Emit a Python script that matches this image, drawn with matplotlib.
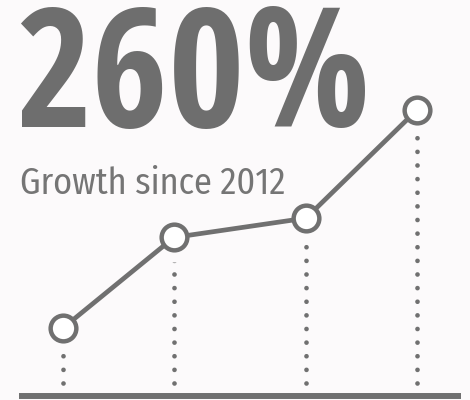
import matplotlib
matplotlib.use("Agg")
import matplotlib.pyplot as plt

# --- DATA ---
periods = [0.0, 1.0, 2.19, 3.19]        # horizontal position of each point
growth = [0, 108, 131, 260]             # growth in % relative to 2012
headline = "260%"
subtitle = "Growth since 2012"

# --- STYLE ---
GREY = "#707070"
BG = "#fcfafb"
HEAD_FONT = ["Open Sans Condensed", "Open Sans", "DejaVu Sans"]
SUB_FONT = ["Fira Sans Condensed", "Open Sans", "DejaVu Sans"]

plt.rcParams["lines.scale_dashes"] = False

fig = plt.figure(figsize=(4.7, 4.0), dpi=100, facecolor=BG)
ax = fig.add_axes([19 / 470, 4 / 400, 442 / 470, 396 / 400])
ax.set_facecolor(BG)

ax.set_xlim(-0.396, 3.586)
ax.set_ylim(-81, 391)
y_floor = ax.get_ylim()[0] + 16   # where the dotted drop lines begin

# dotted drop lines (drawn from the bottom up so the dots sit evenly on the floor)
for x, y in zip(periods, growth):
    ax.plot([x, x], [y_floor, y], color=GREY, lw=3.4,
            dashes=(0.01, 9.8), dash_capstyle="round", zorder=1)

# background halo hides the dots right under each marker
ax.plot(periods, growth, ls="none", marker="o", ms=36, mfc=BG, mec="none", zorder=2)
ax.plot(periods, growth, color=GREY, lw=3.4, solid_capstyle="round", zorder=3)
ax.plot(periods, growth, ls="none", marker="o", ms=18.5, mfc="white",
        mec=GREY, mew=3.2, zorder=4)

for side in ["top", "left", "right"]:
    ax.spines[side].set_visible(False)
ax.spines["bottom"].set_color(GREY)
ax.spines["bottom"].set_linewidth(4.3)
ax.spines["bottom"].set_capstyle("butt")
ax.set_xticks([])
ax.set_yticks([])

fig.text(15 / 470, 1 - 127 / 400, headline, fontsize=119, fontweight="bold",
         family=HEAD_FONT, color="#6e6e6e", va="baseline", ha="left")
fig.text(20 / 470, 1 - 194 / 400, subtitle, fontsize=26, fontweight="normal",
         family=SUB_FONT, color="#757575", va="baseline", ha="left")

fig.savefig("out.png", dpi=100, facecolor=BG)
